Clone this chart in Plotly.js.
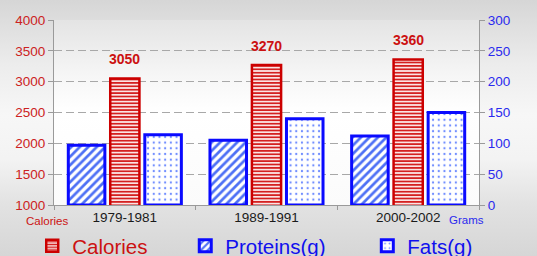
<!DOCTYPE html>
<html>
<head>
<meta charset="utf-8">
<script src="https://cdn.plot.ly/plotly-3.0.1.min.js"></script>
<style>
  html, body { margin: 0; padding: 0; }
  body {
    width: 537px; height: 256px; overflow: hidden; position: relative;
    background: linear-gradient(to bottom, #d6d6d6 0%, #ececec 25%, #f7f7f7 45%, #f3f3f3 62%, #e2e2e2 80%, #d6d6d6 100%);
  }
  #plotbg {
    position: absolute; left: 54px; top: 20px; width: 425px; height: 185px;
    background: linear-gradient(to bottom, #e4e4e4 0%, #f6f6f6 30%, #ffffff 50%, #fbfbfb 100%);
  }
  #chart { position: absolute; left: 0; top: 0; width: 537px; height: 256px; }
</style>
</head>
<body>
<div id="plotbg"></div>
<div id="chart"></div>
<script>
// ---- data ----
const categories = ['1979-1981', '1989-1991', '2000-2002'];
const calories = [3050, 3270, 3360];
const proteins = [97, 105, 112];
const fats = [114, 140, 150];
const seriesNames = ['Calories', 'Proteins(g)', 'Fats(g)'];
const leftTicks = [1000, 1500, 2000, 2500, 3000, 3500, 4000];
const rightTicks = [0, 50, 100, 150, 200, 250, 300];

const RED = '#cc1111';
const BLUE = '#0a0aff';

const traces = [
  {
    type: 'bar', name: seriesNames[1], x: categories, y: proteins, yaxis: 'y2',
    offset: -0.399, width: 0.258, legend: 'legend2',
    marker: {
      color: '#ffffff',
      line: { color: BLUE, width: 3 },
      pattern: { shape: '/', fgcolor: '#4d70f5', bgcolor: '#ffffff', size: 6, solidity: 0.45 }
    },
    hoverinfo: 'skip'
  },
  {
    type: 'bar', name: seriesNames[0], x: categories, y: calories, yaxis: 'y',
    offset: -0.103, width: 0.206, legend: 'legend',
    marker: {
      color: '#fbe3e3',
      line: { color: '#cc0000', width: 2.5 },
      pattern: { shape: '-', fgcolor: '#d42020', bgcolor: '#fbe3e3', size: 3.4, solidity: 0.5 }
    },
    hoverinfo: 'skip'
  },
  {
    type: 'bar', name: seriesNames[2], x: categories, y: fats, yaxis: 'y2',
    offset: 0.141, width: 0.258, legend: 'legend3',
    marker: {
      color: '#ffffff',
      line: { color: BLUE, width: 3 },
      pattern: { shape: '.', fgcolor: '#6f8cff', bgcolor: '#ffffff', size: 5.7, solidity: 0.12 }
    },
    hoverinfo: 'skip'
  }
];

const annotations = categories.map((c, i) => ({
  x: c, y: calories[i], xref: 'x', yref: 'y',
  text: '<b>' + calories[i] + '</b>', showarrow: false,
  yanchor: 'middle', yshift: 19.5,
  font: { family: 'Liberation Sans, Arial, sans-serif', size: 14, color: RED }
}));
annotations.push({
  xref: 'paper', yref: 'paper', x: -0.016, y: -0.0865, text: 'Calories', showarrow: false,
  xanchor: 'center', yanchor: 'middle',
  font: { family: 'Liberation Sans, Arial, sans-serif', size: 11.5, color: RED }
});
annotations.push({
  xref: 'paper', yref: 'paper', x: 0.970, y: -0.08, text: 'Grams', showarrow: false,
  xanchor: 'center', yanchor: 'middle',
  font: { family: 'Liberation Sans, Arial, sans-serif', size: 11.5, color: '#2a2aee' }
});

const legendBase = (x, color) => ({
  orientation: 'h', xref: 'container', yref: 'container',
  x: x, y: 0.039, xanchor: 'left', yanchor: 'middle',
  bgcolor: 'rgba(0,0,0,0)', borderwidth: 0,
  font: { family: 'Liberation Sans, Arial, sans-serif', size: 20.5, color: color }
});

const layout = {
  width: 537, height: 256,
  margin: { l: 54, r: 58, t: 20, b: 51, pad: 0 },
  paper_bgcolor: 'rgba(0,0,0,0)',
  plot_bgcolor: 'rgba(0,0,0,0)',
  barmode: 'overlay',
  font: { family: 'Liberation Sans, Arial, sans-serif' },
  xaxis: {
    type: 'category', range: [-0.5, 2.5],
    showline: true, linecolor: '#9a9a9a', linewidth: 1,
    ticks: 'outside', tickson: 'boundaries', ticklen: 4, tickcolor: '#9a9a9a',
    showgrid: false,
    tickfont: { size: 13.5, color: '#1a1a1a' },
    fixedrange: true
  },
  yaxis: {
    range: [1000, 4000], tickvals: leftTicks, ticktext: leftTicks.map(String),
    showline: true, linecolor: '#9a9a9a', linewidth: 1,
    ticks: 'outside', ticklen: 5, tickcolor: '#9a9a9a',
    showgrid: true, gridcolor: '#a8a8a8', gridwidth: 1, griddash: '8px,4px',
    zeroline: false,
    tickfont: { size: 13.5, color: '#cc2222' },
    fixedrange: true
  },
  yaxis2: {
    overlaying: 'y', side: 'right',
    range: [0, 300], tickvals: rightTicks, ticktext: rightTicks.map(String),
    showline: true, linecolor: '#9a9a9a', linewidth: 1,
    ticks: 'outside', ticklen: 5, tickcolor: '#9a9a9a',
    showgrid: false, zeroline: false,
    tickfont: { size: 13.5, color: '#2a2aee' },
    fixedrange: true
  },
  showlegend: true,
  legend: legendBase(0.060, '#cc1111'),
  legend2: legendBase(0.345, '#1010ee'),
  legend3: legendBase(0.684, '#1010ee'),
  annotations: annotations
};

Plotly.newPlot('chart', traces, layout, { displayModeBar: false, staticPlot: true });
</script>
</body>
</html>
